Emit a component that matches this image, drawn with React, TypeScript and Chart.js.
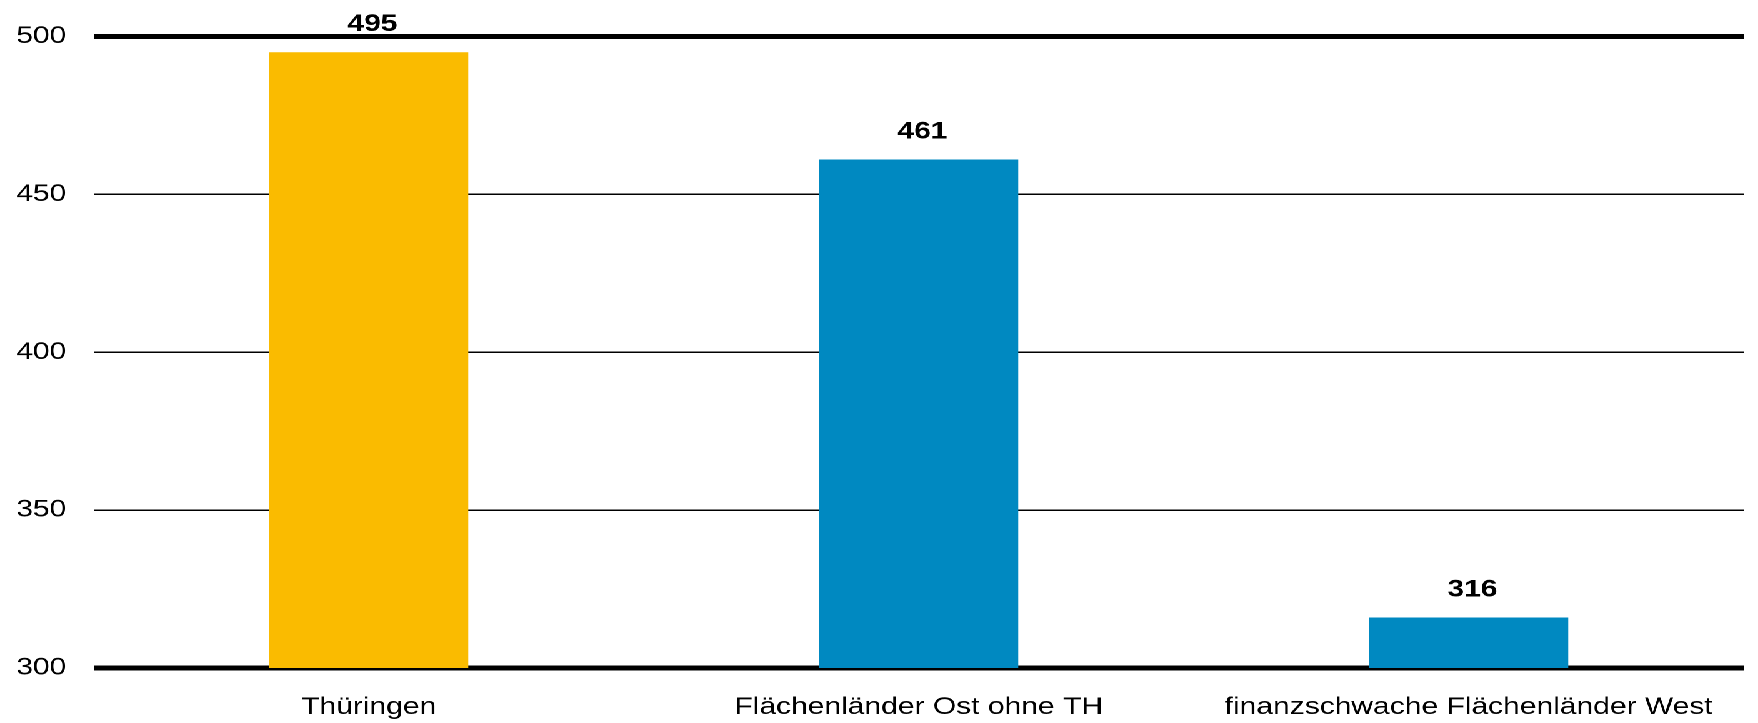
import React, { useEffect, useRef } from 'react';
import { Chart, registerables, ChartOptions, Plugin } from 'chart.js';

Chart.register(...registerables);

const categories = ['Thüringen', 'Flächenländer Ost ohne TH', 'finanzschwache Flächenländer West'];
const values = [495, 461, 316];
const barColors = ['#FABB00', '#0089C1', '#0089C1'];
const yMin = 300;
const yMax = 500;
const yStep = 50;

// the reference is stretched sideways, so draw narrower and scale the canvas
const STRETCH = 1.25;
const WIDTH = 1758;
const HEIGHT = 723;
const CANVAS_W = Math.round(WIDTH / STRETCH);
const FONT = "'Liberation Sans', Arial, sans-serif";

const valueLabels: Plugin<'bar'> = {
  id: 'valueLabels',
  afterDatasetsDraw(chart) {
    const ctx = chart.ctx;
    const meta = chart.getDatasetMeta(0);
    ctx.save();
    ctx.font = `bold 24px ${FONT}`;
    ctx.fillStyle = '#000';
    ctx.textAlign = 'center';
    ctx.textBaseline = 'alphabetic';
    meta.data.forEach((bar, i) => {
      ctx.fillText(String(values[i]), bar.x + 3, bar.y - 21);
    });
    ctx.restore();
  },
};

const App: React.FC = () => {
  const chartRef = useRef<HTMLCanvasElement>(null);

  useEffect(() => {
    if (!chartRef.current) return;

    const options: ChartOptions<'bar'> = {
      responsive: false,
      animation: false,
      devicePixelRatio: 2,
      layout: { padding: { left: 12, right: 11, top: 33, bottom: 0 } },
      plugins: {
        legend: { display: false },
        tooltip: { enabled: false },
      },
      scales: {
        x: {
          grid: { display: false, drawTicks: false },
          border: { display: false },
          ticks: {
            color: '#000',
            font: { family: FONT, size: 24 },
            padding: 25,
            maxRotation: 0,
            autoSkip: false,
          },
          // chart.js reserves padding twice; fix the band height instead
          afterFit: (scale) => {
            scale.height = 55;
          },
        },
        y: {
          min: yMin,
          max: yMax,
          border: { display: false },
          grid: {
            color: '#000',
            drawTicks: false,
            lineWidth: (c) => (c.tick && (c.tick.value === yMin || c.tick.value === yMax) ? 5 : 1.5),
          },
          ticks: {
            stepSize: yStep,
            color: '#000',
            font: { family: FONT, size: 24 },
            padding: 22,
          },
          afterFit: (scale) => {
            scale.width = 63;
          },
        },
      },
    };

    const chart = new Chart(chartRef.current, {
      type: 'bar',
      data: {
        labels: categories,
        datasets: [
          {
            data: values,
            backgroundColor: barColors,
            borderWidth: 0,
            barPercentage: 0.362,
            categoryPercentage: 1,
          },
        ],
      },
      options,
      plugins: [valueLabels],
    });

    return () => {
      chart.destroy();
    };
  }, []);

  return (
    <div
      style={{
        position: 'fixed',
        left: 0,
        top: 0,
        width: CANVAS_W,
        height: HEIGHT,
        transform: `scaleX(${STRETCH})`,
        transformOrigin: '0 0',
        background: '#fff',
      }}
    >
      <canvas ref={chartRef} width={CANVAS_W} height={HEIGHT} style={{ display: 'block' }}></canvas>
    </div>
  );
};

export default App;
